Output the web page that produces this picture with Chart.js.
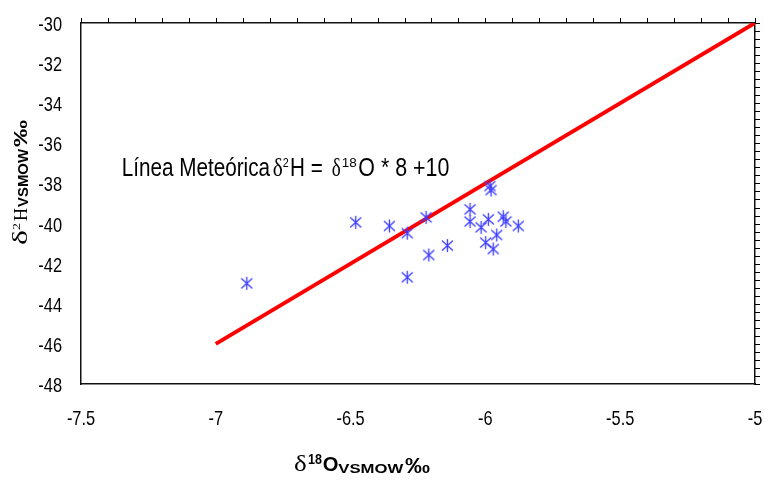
<!DOCTYPE html>
<html>
<head>
<meta charset="utf-8">
<style>
html,body{margin:0;padding:0;background:#fff;}
</style>
</head>
<body>
<canvas id="chart" width="764" height="481"></canvas>
<script src="https://cdn.jsdelivr.net/npm/chart.js@4.4.1/dist/chart.umd.min.js"></script>
<script>
// muestras: d18O y d2H (VSMOW, permil)
var o18 = [-6.885, -6.481, -6.356, -6.290, -6.220, -6.290, -6.210, -6.141, -6.057, -6.057,
           -6.016, -5.989, -5.999, -5.971, -5.958, -5.983, -5.979, -5.934, -5.924, -5.878];
var h2  = [-42.98, -39.94, -40.12, -40.48, -39.69, -42.68, -41.57, -41.10, -39.29, -39.90,
           -40.19, -39.79, -40.95, -41.27, -40.57, -38.13, -38.33, -39.66, -39.90, -40.12];
// linea meteorica, extremos
var lmO18 = [-7, -5];
var lmH2  = [-46, -30];
var xTicks = [-7.5, -7, -6.5, -6, -5.5, -5];
var yTicks = [-48, -46, -44, -42, -40, -38, -36, -34, -32, -30];
// marcas menores (eje superior cada 0.1, derecho cada 0.4)
var xMinor = [], yMinor = [];
for (var k = 0; k <= 25; k++) xMinor.push(Math.round((-7.5 + k * 0.1) * 10) / 10);
for (var k = 0; k <= 45; k++) yMinor.push(Math.round((-48 + k * 0.4) * 10) / 10);

var SANS = 'Liberation Sans', SERIF = 'Liberation Serif';

// marcador tipo asterisco (vertical + X)
var star = document.createElement('canvas');
star.width = 15; star.height = 15;
(function(){
  var c = star.getContext('2d');
  c.strokeStyle = '#3c3cff';
  c.lineWidth = 1.3;
  c.beginPath();
  c.moveTo(7.5, 1); c.lineTo(7.5, 14);
  c.moveTo(2, 2.5); c.lineTo(13, 12.5);
  c.moveTo(13, 2.5); c.lineTo(2, 12.5);
  c.stroke();
})();

function drawRuns(ctx, list, x0, y0, rot){
  ctx.save();
  ctx.translate(x0, y0);
  if (rot) ctx.rotate(-Math.PI/2);
  ctx.fillStyle = '#000';
  ctx.textBaseline = 'alphabetic';
  ctx.textAlign = 'left';
  list.forEach(function(r){
    ctx.font = r.f;
    var m = ctx.measureText(r.t).width;
    ctx.save();
    ctx.translate(r.x, r.dy || 0);
    ctx.scale(r.w / m, 1);
    ctx.fillText(r.t, 0, 0);
    ctx.restore();
  });
  ctx.restore();
}

var textPlugin = {
  id: 'textos',
  afterDraw: function(chart){
    var ctx = chart.ctx;
    var xs = chart.scales.x, ys = chart.scales.y;
    var xt = chart.scales.x2, yr = chart.scales.y2;
    var a = chart.chartArea;

    // marcas de los ejes superior y derecho
    ctx.save();
    ctx.strokeStyle = '#000';
    ctx.lineWidth = 1;
    ctx.beginPath();
    xt.ticks.forEach(function(t){
      var px = Math.round(xt.getPixelForValue(t.value)) + 0.5;
      ctx.moveTo(px, a.top - 5); ctx.lineTo(px, a.top);
    });
    yr.ticks.forEach(function(t){
      var py = Math.round(yr.getPixelForValue(t.value)) + 0.5;
      ctx.moveTo(a.right, py); ctx.lineTo(a.right + 5, py);
    });
    ctx.stroke();
    ctx.restore();

    ctx.save();
    ctx.fillStyle = '#000';
    ctx.font = '21px ' + SANS;
    ys.ticks.forEach(function(t){
      var py = ys.getPixelForValue(t.value);
      ctx.save();
      ctx.translate(62, py + 8);
      ctx.scale(0.78, 1);
      ctx.textAlign = 'right';
      ctx.fillText(String(t.value), 0, 0);
      ctx.restore();
    });
    xs.ticks.forEach(function(t){
      var px = xs.getPixelForValue(t.value);
      ctx.save();
      ctx.translate(px, 425);
      ctx.scale(0.78, 1);
      ctx.textAlign = 'center';
      ctx.fillText(String(t.value), 0, 0);
      ctx.restore();
    });
    ctx.restore();

    // eje Y
    drawRuns(ctx, [
      {t:'\u03b4', f:'20px ' + SERIF, x:0, w:15},
      {t:'2', f:'11px ' + SERIF, x:15, w:7, dy:-7.3},
      {t:'H', f:'19px ' + SERIF, x:24, w:13},
      {t:'VSMOW', f:'bold 14px ' + SANS, x:38, w:58, dy:1},
      {t:'\u2030', f:'bold 18px ' + SANS, x:98, w:27, dy:-0.6}
    ], 27.3, 245, true);

    // eje X
    drawRuns(ctx, [
      {t:'\u03b4', f:'24px ' + SERIF, x:0, w:12.7},
      {t:'18', f:'bold 14px ' + SANS, x:14, w:14, dy:-6.7},
      {t:'O', f:'bold 20px ' + SANS, x:28.7, w:15.7},
      {t:'VSMOW', f:'bold 13px ' + SANS, x:44.3, w:65, dy:2.6},
      {t:'\u2030', f:'bold 22px ' + SANS, x:111, w:25, dy:2.3}
    ], 294, 470.7, false);

    // ecuacion
    drawRuns(ctx, [
      {t:'L\u00ednea Mete\u00f3rica', f:'26px ' + SANS, x:0, w:148.3},
      {t:'\u03b4', f:'26px ' + SERIF, x:151, w:10},
      {t:'2', f:'12px ' + SANS, x:161, w:6, dy:-9.3},
      {t:'H =', f:'26px ' + SANS, x:168.3, w:32.7},
      {t:'\u03b4', f:'26px ' + SERIF, x:210, w:9},
      {t:'18', f:'12px ' + SANS, x:220, w:15, dy:-9.3},
      {t:'O * 8 +10', f:'26px ' + SANS, x:236.6, w:91}
    ], 121.7, 176, false);
  }
};

var borde = {display:true, color:'#111', width:1.5};

new Chart(document.getElementById('chart').getContext('2d'), {
  type: 'scatter',
  data: {
    datasets: [
      {
        label: 'Muestras',
        data: o18.map(function(v, i){ return {x:v, y:h2[i]}; }),
        pointStyle: star,
        pointRadius: 6,
        pointHoverRadius: 6,
        order: 0
      },
      {
        label: 'L\u00ednea Mete\u00f3rica',
        data: lmO18.map(function(v, i){ return {x:v, y:lmH2[i]}; }),
        showLine: true,
        borderColor: '#ff0000',
        borderWidth: 4,
        pointRadius: 0,
        fill: false,
        order: 1
      }
    ]
  },
  options: {
    responsive: false,
    animation: false,
    layout: {padding: 0},
    plugins: {legend: {display: false}, tooltip: {enabled: false}},
    scales: {
      x: {
        type: 'linear', position: 'bottom', min: -7.5, max: -5,
        afterBuildTicks: function(s){ s.ticks = xTicks.map(function(v){ return {value:v}; }); },
        afterFit: function(s){ s.height = 97; },
        grid: {display: false},
        border: borde,
        ticks: {display: false}
      },
      x2: {
        type: 'linear', position: 'top', min: -7.5, max: -5,
        afterBuildTicks: function(s){ s.ticks = xMinor.map(function(v){ return {value:v}; }); },
        afterFit: function(s){ s.height = 23; },
        grid: {display: false},
        border: borde,
        ticks: {display: false}
      },
      y: {
        type: 'linear', position: 'left', min: -48, max: -30,
        afterBuildTicks: function(s){ s.ticks = yTicks.map(function(v){ return {value:v}; }); },
        afterFit: function(s){ s.width = 81; },
        grid: {display: false},
        border: borde,
        ticks: {display: false}
      },
      y2: {
        type: 'linear', position: 'right', min: -48, max: -30,
        afterBuildTicks: function(s){ s.ticks = yMinor.map(function(v){ return {value:v}; }); },
        afterFit: function(s){ s.width = 9; },
        grid: {display: false},
        border: borde,
        ticks: {display: false}
      }
    }
  },
  plugins: [textPlugin]
});
</script>
</body>
</html>
